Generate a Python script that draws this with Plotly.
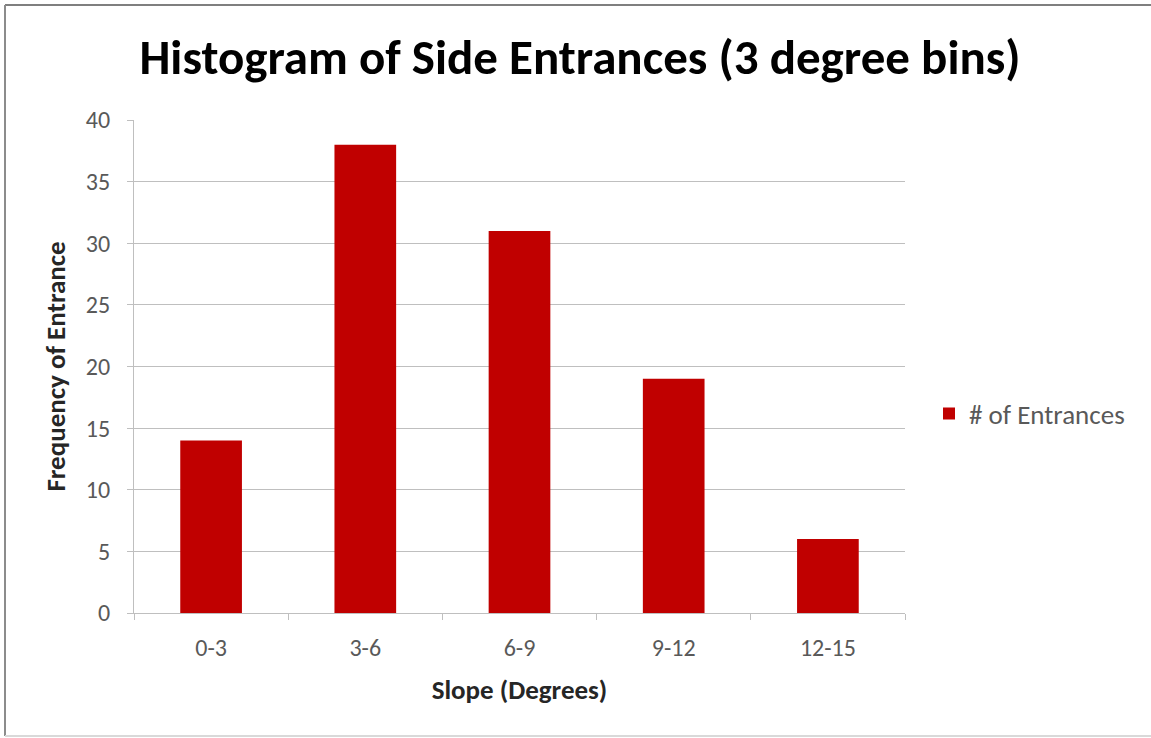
import plotly.graph_objects as go

# Slope bins and entrance counts
bins = ["0-3", "3-6", "6-9", "9-12", "12-15"]
counts = [14, 38, 31, 19, 6]
y_ticks = [0, 5, 10, 15, 20, 25, 30, 35, 40]

W, H = 1151, 738
L, R, T, B = 134, 246, 120, 125
pw, ph = W - L - R, H - T - B

FONT = "Calibri, Carlito, Lato, 'Open Sans', sans-serif"
BAR_RED = "#C00000"
GRID = "#BFBFBF"
TXT = "#595959"

def px_x(p):
    return (p - L) / pw

def px_y(p):
    return (H - B - p) / ph

fig = go.Figure()
fig.add_trace(go.Bar(
    x=bins, y=counts, name="# of Entrances",
    marker=dict(color=BAR_RED, line=dict(width=0)),
    width=0.4,
))

fig.update_layout(
    width=W, height=H,
    margin=dict(l=L, r=R, t=T, b=B, pad=0),
    paper_bgcolor="white", plot_bgcolor="white",
    font=dict(family=FONT, color=TXT, size=24),
    title=dict(
        text="<b>Histogram of Side Entrances (3 degree bins)</b>",
        x=580 / W, xref="container", xanchor="center",
        y=1 - 57 / H, yanchor="middle",
        font=dict(family=FONT, size=49, color="black"),
    ),
    xaxis=dict(
        showgrid=False, showline=True, linecolor=GRID, linewidth=1,
        ticks="outside", tickson="boundaries", ticklen=6, tickcolor=GRID,
        tickfont=dict(size=24, color=TXT), ticklabelstandoff=13,
        title=dict(text="<b>Slope (Degrees)</b>", standoff=19,
                   font=dict(size=27, color="#262626")),
    ),
    yaxis=dict(
        range=[0, 40], tickvals=y_ticks,
        showgrid=True, gridcolor=GRID, gridwidth=1,
        showline=True, linecolor=GRID, linewidth=1,
        ticks="outside", ticklen=6, tickcolor=GRID,
        tickfont=dict(size=24, color=TXT), zeroline=False,
        ticklabelstandoff=12,
        title=dict(text="<b>Frequency of Entrance</b>", standoff=12,
                   font=dict(size=27, color="#262626")),
    ),
    showlegend=True,
    legend=dict(
        x=px_x(929), y=px_y(414), xanchor="left", yanchor="middle",
        font=dict(size=27, color=TXT), bgcolor="rgba(0,0,0,0)",
        itemwidth=30,
    ),
    bargap=0.6,
)

# Chart-area frame
fig.add_shape(type="line", xref="paper", yref="paper",
              x0=px_x(5), x1=px_x(W), y0=px_y(5), y1=px_y(5),
              line=dict(color="#7F7F7F", width=2))
fig.add_shape(type="line", xref="paper", yref="paper",
              x0=px_x(5), x1=px_x(5), y0=px_y(5), y1=px_y(736),
              line=dict(color="#8C8C8C", width=2))
fig.add_shape(type="line", xref="paper", yref="paper",
              x0=px_x(5), x1=px_x(W), y0=px_y(736), y1=px_y(736),
              line=dict(color="#D9D9D9", width=2))

fig.write_html("out.html")
